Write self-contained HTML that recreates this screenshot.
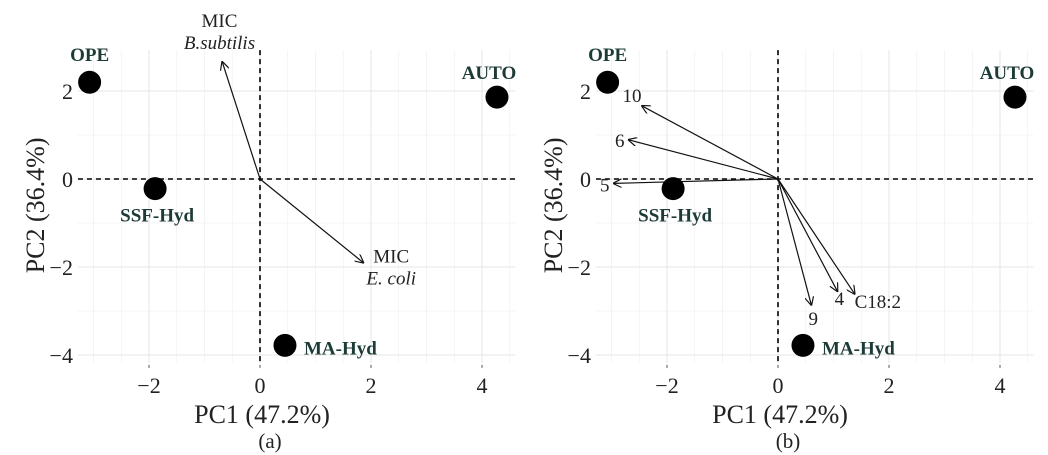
<!DOCTYPE html>
<html><head><meta charset="utf-8">
<style>
html,body{margin:0;padding:0;background:#fff;}
svg{display:block;font-family:"Liberation Serif",serif;}
</style></head>
<body>
<svg id="chart" width="1048" height="455" viewBox="0 0 1048 455">
<defs>
<marker id="ah" viewBox="0 0 10 10" refX="9" refY="5" markerWidth="9" markerHeight="9" orient="auto-start-reverse" markerUnits="userSpaceOnUse">
<path d="M0,0 L10,5 L0,10" fill="none" stroke="#111" stroke-width="1.3"/>
</marker>
</defs>
</svg>
<script>
const sampleNames = ["OPE","AUTO","SSF-Hyd","MA-Hyd"];
const samplePC1 = [-3.07, 4.27, -1.89, 0.45];
const samplePC2 = [2.2, 1.86, -0.22, -3.78];
const loadingsA = ["MIC B.subtilis","MIC E.coli"];
const loadingsAPC1 = [-0.68, 1.86];
const loadingsAPC2 = [2.66, -1.9];
const loadingsB = ["10","6","5","9","4","C18:2"];
const loadingsBPC1 = [-2.45, -2.69, -2.96, 0.6, 1.07, 1.38];
const loadingsBPC2 = [1.66, 0.89, -0.1, -2.86, -2.55, -2.61];
const xTicks = [-2, 0, 2, 4];
const yTicks = [2, 0, -2, -4];

const NS = "http://www.w3.org/2000/svg";
const svg = document.getElementById("chart");
function mk(tag, attrs, parent, text){
  const e = document.createElementNS(NS, tag);
  for (const k in attrs) e.setAttribute(k, attrs[k]);
  if (text !== undefined) e.textContent = text;
  (parent||svg).appendChild(e);
  return e;
}

function panel(off, loadNames, lx, ly, caption, which){
  const X = v => off + 260 + v*55.5;
  const Y = v => 179 - v*44;
  const g = mk("g", {});
  
  
  const L = X(-3.28), R = X(4.6), T = Y(2.93), B = Y(-4.18);
  for (let v = -3; v <= 4.5; v += 0.5){
    const gl = mk("line", {x1:X(v), x2:X(v), y1:T, y2:B, stroke: Number.isInteger(v/2)? "#e6e6e6":"#f0f0f0", "stroke-width": Number.isInteger(v/2)?1.1:0.7}, g);
    
    
  }
  for (let v = -4; v <= 2.5; v += 1){
    const gl = mk("line", {x1:L, x2:R, y1:Y(v), y2:Y(v), stroke: Number.isInteger(v/2)? "#e6e6e6":"#f0f0f0", "stroke-width": Number.isInteger(v/2)?1.1:0.7}, g);
    
    
  }
  const zh = mk("line", {x1:L, x2:R, y1:Y(0), y2:Y(0), stroke:"#000", "stroke-width":1.6, "stroke-dasharray":"5,4"}, g);
  
  
  const zv = mk("line", {x1:X(0), x2:X(0), y1:T, y2:B, stroke:"#000", "stroke-width":1.6, "stroke-dasharray":"5,4"}, g);
  
  
  xTicks.forEach(t => {
    const tl = mk("text", {x:X(t), y:393, "text-anchor":"middle", "font-size":22, fill:"#222"}, g, t<0? "\u2212"+(-t) : String(t));
    
    
    mk("line",{x1:X(t),x2:X(t),y1:B+2,y2:B+5,stroke:"#555"},g);
  });
  yTicks.forEach(t => {
    const tl = mk("text", {x:L-5, y:Y(t)+8, "text-anchor":"end", "font-size":22, fill:"#222"}, g, t<0? "\u2212"+(-t) : String(t));
    
    
  });
  const xt = mk("text", {x:off+262, y:423, "text-anchor":"middle", "font-size":26, fill:"#222"}, g, "PC1 (47.2%)");
  
  
  const yt = mk("text", {x:0, y:0, "text-anchor":"middle", "font-size":26, fill:"#222", transform:`translate(${off+44},${Y(-0.6)}) rotate(-90)`}, g, "PC2 (36.4%)");
  
  
  const cp = mk("text", {x:off+270, y:448, "text-anchor":"middle", "font-size":21, fill:"#222"}, g, caption);
  
  
  loadNames.forEach((n, i) => {
    const a = mk("line", {x1:X(0), y1:Y(0), x2:X(lx[i]), y2:Y(ly[i]), stroke:"#111", "stroke-width":1.2, "marker-end":"url(#ah)"}, g);
    
    
  });
  sampleNames.forEach((n, i) => {
    const c = mk("circle", {cx:X(samplePC1[i]), cy:Y(samplePC2[i]), r:11.5, fill:"#000"}, g);
    
    
  });
  return {X, Y, g};
}

function sampleLabels(p){
  const pos = [[0,-21,"middle"],[-8,-18,"middle"],[2,33,"middle"],[19,9,"start"]];
  sampleNames.forEach((n,i)=>{
    const t = mk("text", {x:p.X(samplePC1[i])+pos[i][0], y:p.Y(samplePC2[i])+pos[i][1], "text-anchor":pos[i][2], "font-size":19, "font-weight":"bold", fill:"#1c3a36"}, p.g, n);
    
    
  });
}

const pa = panel(0, loadingsA, loadingsAPC1, loadingsAPC2, "(a)", "a");
sampleLabels(pa);
[["MIC","B.subtilis",-0.73,2.66],["MIC","E. coli",1.86,-1.9]].forEach((d,i)=>{
  const bx = pa.X(d[2]) + (i===0? 0 : 28), by = pa.Y(d[3]) + (i===0? -35 : 0);
  const t1 = mk("text",{x:bx,y:by,"text-anchor":"middle","font-size":19,fill:"#222"},pa.g,d[0]);
  
  
  const t2 = mk("text",{x:bx,y:by+22,"text-anchor":"middle","font-size":19,"font-style":"italic",fill:"#222"},pa.g,d[1]);
  
  
});

const pb = panel(518, loadingsB, loadingsBPC1, loadingsBPC2, "(b)", "b");
sampleLabels(pb);
const offs = [[-10,-4,"middle"],[-9,7,"middle"],[-9,8,"middle"],[2,20,"middle"],[2,14,"middle"],[0,14,"start"]];
loadingsB.forEach((n,i)=>{
  const t = mk("text",{x:pb.X(loadingsBPC1[i])+offs[i][0], y:pb.Y(loadingsBPC2[i])+offs[i][1], "text-anchor":offs[i][2], "font-size":19, fill:"#222"}, pb.g, n);
  
  
});
</script>
</body></html>
